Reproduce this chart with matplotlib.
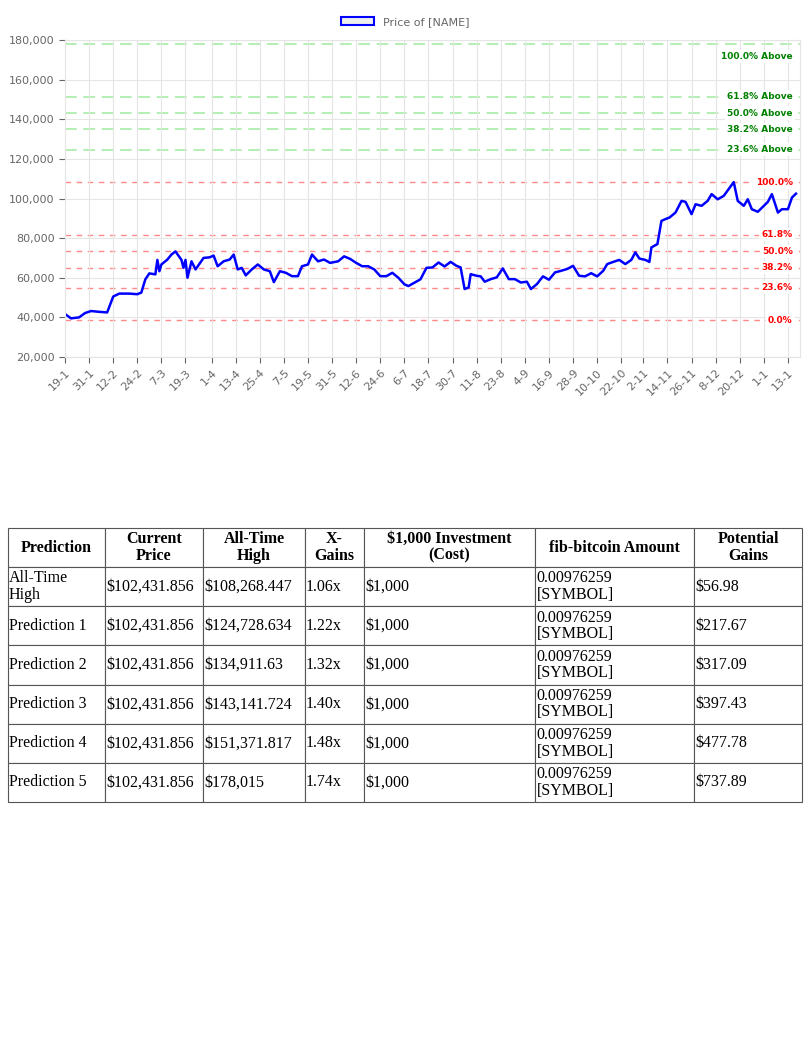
import numpy as np
import matplotlib.pyplot as plt
from datetime import date

# price readings (date, value)
dates = ["2024-01-19", "2024-01-22", "2024-01-26", "2024-01-29", "2024-02-01", "2024-02-05", "2024-02-09",
         "2024-02-12", "2024-02-15", "2024-02-20", "2024-02-24", "2024-02-26", "2024-02-28", "2024-03-01",
         "2024-03-04", "2024-03-05", "2024-03-06", "2024-03-07", "2024-03-10", "2024-03-12", "2024-03-14",
         "2024-03-17", "2024-03-18", "2024-03-19", "2024-03-20", "2024-03-22", "2024-03-24", "2024-03-28",
         "2024-03-31", "2024-04-02", "2024-04-04", "2024-04-07", "2024-04-10", "2024-04-12", "2024-04-14",
         "2024-04-16", "2024-04-18", "2024-04-21", "2024-04-24", "2024-04-27", "2024-04-30", "2024-05-02",
         "2024-05-05", "2024-05-08", "2024-05-11", "2024-05-14", "2024-05-16", "2024-05-19", "2024-05-21",
         "2024-05-24", "2024-05-27", "2024-05-30", "2024-06-03", "2024-06-06", "2024-06-09", "2024-06-12",
         "2024-06-15", "2024-06-18", "2024-06-21", "2024-06-24", "2024-06-27", "2024-06-30", "2024-07-03",
         "2024-07-06", "2024-07-08", "2024-07-11", "2024-07-14", "2024-07-17", "2024-07-20", "2024-07-23",
         "2024-07-26", "2024-07-29", "2024-08-01", "2024-08-03", "2024-08-05", "2024-08-07", "2024-08-08",
         "2024-08-11", "2024-08-13", "2024-08-15", "2024-08-18", "2024-08-21", "2024-08-24", "2024-08-27",
         "2024-08-30", "2024-09-02", "2024-09-05", "2024-09-07", "2024-09-10", "2024-09-13", "2024-09-16",
         "2024-09-19", "2024-09-22", "2024-09-25", "2024-09-28", "2024-10-01", "2024-10-04", "2024-10-07",
         "2024-10-10", "2024-10-13", "2024-10-15", "2024-10-18", "2024-10-21", "2024-10-24", "2024-10-27",
         "2024-10-29", "2024-10-31", "2024-11-03", "2024-11-05", "2024-11-06", "2024-11-09", "2024-11-11",
         "2024-11-13", "2024-11-15", "2024-11-18", "2024-11-21", "2024-11-23", "2024-11-26", "2024-11-28",
         "2024-12-01", "2024-12-04", "2024-12-06", "2024-12-09", "2024-12-12", "2024-12-15", "2024-12-17",
         "2024-12-19", "2024-12-22", "2024-12-24", "2024-12-26", "2024-12-29", "2025-01-01", "2025-01-03",
         "2025-01-05", "2025-01-08", "2025-01-10", "2025-01-13", "2025-01-15", "2025-01-17"]
prices = [41700, 39500, 40000, 42200, 43200, 42800, 42500,
          50500, 52000, 52000, 51700, 52500, 59200, 62200,
          61700, 69000, 63300, 66700, 69200, 71700, 73300,
          69000, 65000, 69000, 60000, 68300, 64200, 70000,
          70300, 71200, 65800, 68300, 69200, 71700, 64200,
          65000, 61200, 64200, 66700, 64200, 63300, 57800,
          63300, 62500, 60800, 60800, 65800, 66700, 71700,
          68300, 69200, 67500, 68300, 70800, 69500, 67500,
          65800, 65800, 64200, 60800, 60800, 62500, 60000,
          56700, 55800, 57500, 59200, 65000, 65200, 67700,
          65700, 68000, 66000, 65200, 54300, 55100, 61800,
          61000, 60700, 58000, 59300, 60200, 64700, 59300,
          59300, 57600, 58000, 54300, 56800, 60700, 59000,
          62700, 63500, 64400, 66000, 61000, 60700, 62300,
          60700, 63500, 66900, 68000, 69000, 66900, 69000,
          72800, 69700, 69000, 68000, 75300, 77000, 88700,
          89600, 90400, 92900, 98800, 98300, 92100, 97100,
          96300, 98800, 102200, 99600, 101300, 105500, 108268,
          98800, 96300, 99600, 94600, 93300, 96300, 98300,
          102200, 92900, 94600, 94600, 100500, 102431.856]

tick_dates = ["2024-01-19", "2024-01-31", "2024-02-12", "2024-02-24", "2024-03-07", "2024-03-19", "2024-04-01",
              "2024-04-13", "2024-04-25", "2024-05-07", "2024-05-19", "2024-05-31", "2024-06-12", "2024-06-24",
              "2024-07-06", "2024-07-18", "2024-07-30", "2024-08-11", "2024-08-23", "2024-09-04", "2024-09-16",
              "2024-09-28", "2024-10-10", "2024-10-22", "2024-11-02", "2024-11-14", "2024-11-26", "2024-12-08",
              "2024-12-20", "2025-01-01", "2025-01-13"]

low = 38521.9
high = 108268.447
fib_ratios = [0.0, 0.236, 0.382, 0.5, 0.618, 1.0]
above_ratios = [0.236, 0.382, 0.5, 0.618, 1.0]

# table data
table_header = ["Prediction", "Current\nPrice", "All-Time\nHigh", "X-\nGains", "$1,000 Investment\n(Cost)",
                "fib-bitcoin Amount", "Potential\nGains"]
pred_names = ["All-Time\nHigh", "Prediction 1", "Prediction 2", "Prediction 3", "Prediction 4", "Prediction 5"]
current_price = "$102,431.856"
ath_values = ["$108,268.447", "$124,728.634", "$134,911.63", "$143,141.724", "$151,371.817", "$178,015"]
x_gains = ["1.06x", "1.22x", "1.32x", "1.40x", "1.48x", "1.74x"]
amount = "0.00976259\n[SYMBOL]"
gains = ["$56.98", "$217.67", "$317.09", "$397.43", "$477.78", "$737.89"]

start = date(2024, 1, 19)
days = lambda d: (date.fromisoformat(d) - start).days
x = np.array([days(d) for d in dates])
y = np.array(prices)

fig = plt.figure(figsize=(8.1, 10.6), dpi=100)
ax = fig.add_axes([65 / 810, 1 - 357 / 1060, 735 / 810, 317 / 1060])

rng = high - low
for r in fib_ratios:
    v = low + r * rng
    ax.axhline(v, color='#ff6b6b', ls=(0, (4, 4)), lw=1, alpha=0.8, zorder=1)
    ax.text(0.99, v, f"{r * 100:.1f}%", transform=ax.get_yaxis_transform(), ha='right', va='center',
            color='red', fontsize=6.5, fontweight='bold', zorder=3,
            bbox=dict(facecolor='white', edgecolor='none', pad=1.5))
for r in above_ratios:
    v = high + r * rng
    ax.axhline(v, color='#a8eca8', ls=(0, (7, 4)), lw=1.2, zorder=1)
    ty = v - 6500 if r == 1.0 else v
    ax.text(0.99, ty, f"{r * 100:.1f}% Above", transform=ax.get_yaxis_transform(), ha='right', va='center',
            color='green', fontsize=6.5, fontweight='bold', zorder=3,
            bbox=dict(facecolor='white', edgecolor='none', pad=1.5))

ax.plot(x, y, color='blue', lw=1.8, zorder=2, label='Price of [NAME]')

ax.set_xticks([days(d) for d in tick_dates])
ax.set_xticklabels([f"{date.fromisoformat(d).day}-{date.fromisoformat(d).month}" for d in tick_dates],
                   rotation=45, ha='right', rotation_mode='anchor')
ax.set_xlim(0, 366)
ax.set_ylim(20000, 180000)
ax.set_yticks(np.arange(20000, 180001, 20000))
ax.yaxis.set_major_formatter(plt.FuncFormatter(lambda v, p: f"{int(v):,}"))
ax.grid(True, color='#e5e5e5', lw=0.8, zorder=0)
ax.tick_params(colors='#666666', labelsize=8, length=4)
for s in ax.spines.values():
    s.set_color('#e5e5e5')
fig.legend(handles=[plt.Rectangle((0, 0), 1, 1, facecolor='#eeeeee', edgecolor='blue', lw=1.5)],
           labels=['Price of [NAME]'], loc='center', bbox_to_anchor=(0.5, 1 - 22 / 1060),
           frameon=False, fontsize=8, labelcolor='#666666', handlelength=3)

# table
tax = fig.add_axes([8 / 810, 1 - 802 / 1060, 794 / 810, 274 / 1060])
tax.axis('off')
col_edges = np.array([8, 105, 203, 305, 364, 535, 694, 802])
widths = np.diff(col_edges) / (col_edges[-1] - col_edges[0])
rows = [[pred_names[i], current_price, ath_values[i], x_gains[i], "$1,000", amount, gains[i]] for i in range(6)]
tbl = tax.table(cellText=rows, colLabels=table_header, colWidths=widths, bbox=[0, 0, 1, 1], cellLoc='left')
tbl.auto_set_font_size(False)
for (r, c), cell in tbl.get_celld().items():
    cell.set_edgecolor('#555555')
    cell.set_linewidth(0.8)
    cell.PAD = 0.01
    t = cell.get_text()
    t.set_fontfamily('Liberation Serif')
    t.set_fontsize(11.5)
    t.set_linespacing(1.05)
    if r == 0:
        t.set_fontweight('bold')
        t.set_ha('center')
        cell._loc = 'center'

fig.savefig('out.png', dpi=100)
